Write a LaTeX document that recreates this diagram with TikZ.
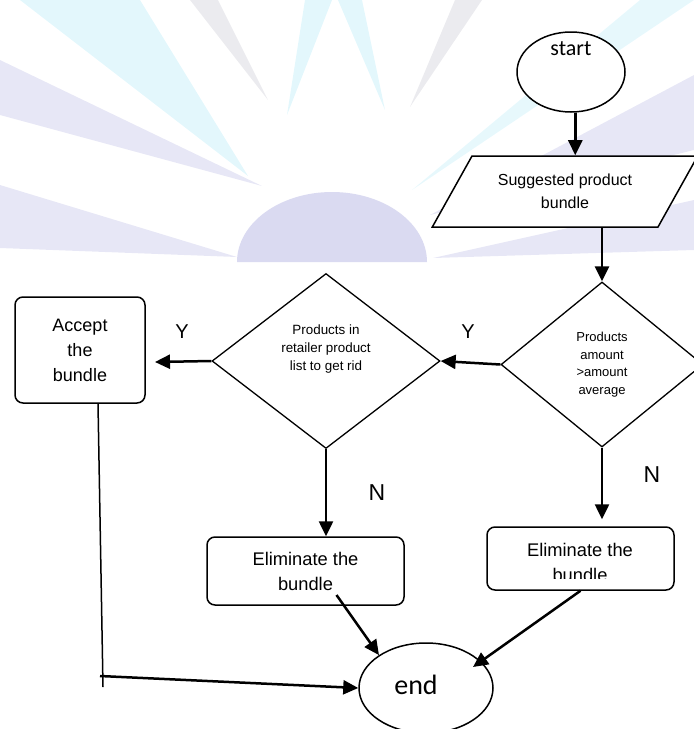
\documentclass[tikz,border=0pt]{standalone}
\usepackage{fontspec}
\setmainfont{Liberation Sans}
\newfontfamily\calfont{Carlito}
\usetikzlibrary{shapes.geometric,arrows.meta}

\definecolor{wmlav}{RGB}{212,212,238}
\definecolor{wmcyan}{RGB}{208,242,250}
\definecolor{wmgray}{RGB}{222,222,228}

\tikzset{
  termnode/.style={draw, ellipse, line width=1.5pt, fill=white, inner sep=0pt},
  iobox/.style={draw, trapezium, trapezium left angle=54, trapezium right angle=126,
    trapezium stretches=true, line width=1.5pt, fill=white, align=center},
  decide/.style={draw, diamond, line width=1.3pt, fill=white, inner sep=0pt, align=center},
  actbox/.style={draw, rounded corners=8pt, line width=1.5pt, fill=white, align=center},
  flow/.style={line width=2.5pt, -{Triangle[length=15pt,width=14pt]}},
  yn/.style={font=\fontsize{20}{20}\selectfont}
}

\begin{document}
\begin{tikzpicture}[x=1pt,y=-1pt]
    \useasboundingbox (0,0) rectangle (694,729);
    % faint watermark behind the chart
    \fill[wmlav, opacity=.55] (0,60) -- (262,186) -- (0,115) -- cycle;
    \fill[wmlav, opacity=.55] (0,185) -- (237,257) -- (0,248) -- cycle;
    \fill[wmcyan, opacity=.6] (20,0) -- (248,176) -- (140,0) -- cycle;
    \fill[wmgray, opacity=.6] (190,0) -- (268,100) -- (218,0) -- cycle;
    \fill[wmcyan, opacity=.6] (305,0) -- (287,115) -- (332,0) -- cycle;
    \fill[wmcyan, opacity=.6] (338,0) -- (385,110) -- (362,0) -- cycle;
    \fill[wmgray, opacity=.6] (455,0) -- (410,107) -- (482,0) -- cycle;
    \fill[wmcyan, opacity=.5] (640,0) -- (412,190) -- (694,0) -- cycle;
    \fill[wmlav, opacity=.55] (694,75) -- (430,215) -- (694,150) -- cycle;
    \fill[wmlav, opacity=.55] (694,200) -- (433,258) -- (694,250) -- cycle;
    \fill[wmlav, opacity=.85] (237,262) arc[start angle=180, end angle=360, x radius=95, y radius=70] -- cycle;

    \node[termnode, minimum width=108, minimum height=80,
      label={[font=\calfont\fontsize{22}{22}\selectfont, yshift=23pt]center:start}] (start) at (571,72) {};
    \node[iobox, minimum width=266, minimum height=71, font=\fontsize{16}{23}\selectfont] (sug) at (565,191.5) {Suggested product\\bundle};
    \node[decide, minimum width=202, minimum height=165, font=\fontsize{13}{17.5}\selectfont] (amt) at (602,364.5) {Products\\amount\\>amount\\average};
    \node[decide, minimum width=228, minimum height=175,
      label={[font=\fontsize{13.4}{18}\selectfont, align=center, yshift=12pt]center:Products in\\retailer product\\list to get rid}] (rid) at (326,361) {};
    \node[actbox, minimum width=130, minimum height=106, font=\fontsize{18}{25}\selectfont] (acc) at (80,350) {Accept\\the\\bundle};
    \node[actbox, minimum width=197, minimum height=68, font=\fontsize{18.3}{25}\selectfont] (elimA) at (305.5,571) {Eliminate the\\bundle};
    \node[actbox, minimum width=187, minimum height=63] (elimB) at (580.5,558.5) {};
    \begin{scope}
      \clip (490,530) rectangle (670,578);
      \node[font=\fontsize{18.3}{25}\selectfont, align=center] (elimBtext) at (580,562.5) {Eliminate the\\bundle};
    \end{scope}
    \node[termnode, minimum width=134, minimum height=90,
      label={[font=\calfont\fontsize{28}{28}\selectfont, xshift=-10pt, yshift=3pt]center:end}] (stop) at (426,688) {};

    \node[yn] (y1) at (468,332) {Y};
    \node[yn] (y2) at (182,332) {Y};
    \node[yn, font=\fontsize{23}{23}\selectfont] (n1) at (377,493) {N};
    \node[yn, font=\fontsize{23}{23}\selectfont] (n2) at (652,475) {N};

    \coordinate (accin) at (155,362);
    \coordinate (accfoot) at (103,687);
    \coordinate (accturn) at (100,676);

    \draw[flow] (start.-84) -- (start.-84 |- sug.north);
    \draw[flow] (sug.south -| amt.north) -- (amt.north);
    \draw[flow] (amt.west) -- (rid.east);
    \draw[flow] (rid.west) -- (accin);
    \draw[flow] (rid.south) -- (rid.south |- elimA.north);
    \draw[flow, shorten >=7pt] (amt.south) -- (amt.south |- elimB.north);
    \draw[flow] ([xshift=31pt,yshift=-24pt]elimA.center) -- (stop.145);
    \draw[flow] (elimB.south) -- ([xshift=47pt,yshift=21pt]stop.center);
    \draw[line width=1.5pt] ([xshift=18pt]acc.south) -- (accfoot);
    \draw[flow] (accturn) -- (stop.west);
\end{tikzpicture}
\end{document}
